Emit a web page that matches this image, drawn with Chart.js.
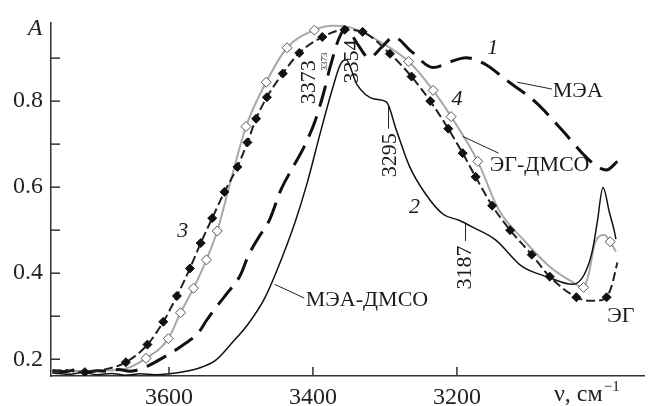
<!DOCTYPE html>
<html>
<head>
<meta charset="utf-8">
<script src="https://cdn.jsdelivr.net/npm/chart.js@4.4.1/dist/chart.umd.min.js"></script>
<style>
    html, body { margin: 0; padding: 0; background: #fff; }
    #wrap { width: 650px; height: 406px; }
</style>
</head>
<body>
<div id="wrap"><canvas id="chart"></canvas></div>
<script>
// Eixos
const xTicks = [3600, 3400, 3200];
const yTicks = [0.2, 0.3, 0.4, 0.5, 0.6, 0.7, 0.8, 0.9];
const yLabels = [0.2, 0.4, 0.6, 0.8];

// 1 - МЭА
const meaV = [3762, 3745, 3730, 3715, 3700, 3685, 3670, 3655, 3640, 3625, 3610, 3596, 3577, 3559, 3548, 3534, 3520, 3501, 3490, 3476, 3460, 3445, 3430, 3412, 3397, 3385, 3376, 3364, 3354, 3339, 3322, 3304, 3288, 3263, 3233, 3208, 3188, 3160, 3133, 3091, 3053, 3023, 3005, 2992, 2977];
const meaA = [0.174, 0.171, 0.175, 0.170, 0.173, 0.172, 0.176, 0.172, 0.177, 0.188, 0.202, 0.216, 0.237, 0.262, 0.290, 0.322, 0.352, 0.395, 0.440, 0.482, 0.525, 0.592, 0.640, 0.695, 0.754, 0.820, 0.880, 0.945, 0.970, 0.935, 0.901, 0.926, 0.949, 0.915, 0.878, 0.892, 0.901, 0.885, 0.851, 0.798, 0.731, 0.674, 0.648, 0.640, 0.660];

// 2 - МЭА-ДМСО
const meaDmsoV = [3762, 3740, 3720, 3700, 3680, 3660, 3640, 3620, 3600, 3580, 3559, 3535, 3513, 3490, 3467, 3449, 3425, 3408, 3390, 3373, 3362, 3354, 3339, 3315, 3298, 3284, 3266, 3243, 3219, 3197, 3178, 3146, 3109, 3075, 3039, 3023, 3012, 3005, 2997, 2988, 2981, 2979];
const meaDmsoA = [0.168, 0.165, 0.169, 0.164, 0.167, 0.163, 0.166, 0.164, 0.166, 0.171, 0.179, 0.198, 0.237, 0.282, 0.342, 0.411, 0.518, 0.610, 0.725, 0.828, 0.885, 0.896, 0.839, 0.805, 0.798, 0.732, 0.649, 0.583, 0.537, 0.523, 0.507, 0.477, 0.415, 0.392, 0.374, 0.397, 0.450, 0.518, 0.599, 0.541, 0.496, 0.479];

// 3 - ЭГ (linha e marcadores)
const egV = [3762, 3745, 3730, 3717, 3690, 3660, 3630, 3608, 3589, 3571, 3556, 3540, 3523, 3505, 3491, 3479, 3464, 3442, 3419, 3387, 3356, 3331, 3293, 3263, 3237, 3212, 3192, 3174, 3151, 3126, 3096, 3071, 3034, 3015, 3000, 2992, 2985, 2977];
const egA = [0.172, 0.175, 0.171, 0.170, 0.176, 0.193, 0.234, 0.287, 0.347, 0.411, 0.470, 0.528, 0.589, 0.647, 0.704, 0.759, 0.809, 0.864, 0.912, 0.949, 0.966, 0.961, 0.910, 0.857, 0.800, 0.736, 0.679, 0.624, 0.557, 0.500, 0.443, 0.392, 0.344, 0.336, 0.337, 0.344, 0.370, 0.425];
const egMarkV = [3717, 3660, 3630, 3608, 3589, 3571, 3556, 3540, 3523, 3505, 3491, 3479, 3464, 3442, 3419, 3387, 3356, 3331, 3293, 3263, 3237, 3212, 3192, 3174, 3151, 3126, 3096, 3071, 3034, 2992];
const egMarkA = [0.170, 0.193, 0.234, 0.287, 0.347, 0.411, 0.470, 0.528, 0.589, 0.647, 0.704, 0.759, 0.809, 0.864, 0.912, 0.949, 0.966, 0.961, 0.910, 0.857, 0.800, 0.736, 0.679, 0.624, 0.557, 0.500, 0.443, 0.392, 0.344, 0.344];

// 4 - ЭГ-ДМСО (linha e marcadores)
const egDmsoV = [3762, 3720, 3669, 3632, 3601, 3584, 3566, 3548, 3533, 3515, 3493, 3465, 3436, 3398, 3373, 3350, 3311, 3267, 3233, 3208, 3171, 3142, 3105, 3071, 3041, 3024, 3016, 3009, 3002, 2995, 2987, 2979];
const egDmsoA = [0.170, 0.173, 0.175, 0.202, 0.248, 0.308, 0.365, 0.431, 0.498, 0.610, 0.741, 0.844, 0.924, 0.965, 0.975, 0.972, 0.942, 0.892, 0.825, 0.764, 0.660, 0.548, 0.473, 0.415, 0.381, 0.367, 0.404, 0.466, 0.486, 0.489, 0.473, 0.450];
const egDmsoMarkV = [3632, 3601, 3584, 3566, 3548, 3533, 3493, 3465, 3436, 3398, 3267, 3233, 3208, 3171, 3024, 2987];
const egDmsoMarkA = [0.202, 0.248, 0.308, 0.365, 0.431, 0.498, 0.741, 0.844, 0.924, 0.965, 0.892, 0.825, 0.764, 0.660, 0.367, 0.473];

const serif = '"Liberation Serif", "Times New Roman", serif';

function toPoints(xs, ys) {
    return xs.map((x, i) => ({ x: x, y: ys[i] }));
}

// Textos sobre o gráfico (posições em unidades dos dados)
const notes = [
    { text: '1', v: 3150, a: 0.922, italic: true },
    { text: '4', v: 3200, a: 0.805, italic: true },
    { text: '2', v: 3259, a: 0.553, italic: true },
    { text: '3', v: 3581, a: 0.498, italic: true },
    { text: 'МЭА', v: 3032, a: 0.823 },
    { text: 'ЭГ-ДМСО', v: 3085, a: 0.651 },
    { text: 'МЭА-ДМСО', v: 3410, a: 0.337, align: 'left' },
    { text: 'ЭГ', v: 2972, a: 0.301 },
    { text: '3373', v: 3405, a: 0.844, rotate: true },
    { text: '3373', v: 3384, a: 0.892, rotate: true, size: 9 },
    { text: '3354', v: 3346, a: 0.892, rotate: true },
    { text: '3295', v: 3293, a: 0.674, rotate: true },
    { text: '3187', v: 3188, a: 0.413, rotate: true }
];

const leaders = [
    [3116, 0.844, 3068, 0.828],
    [3192, 0.718, 3142, 0.679],
    [3453, 0.374, 3412, 0.342],
    [3295, 0.793, 3295, 0.736],
    [3188, 0.514, 3188, 0.475]
];

const ticksInside = {
    id: 'ticksInside',
    afterDraw(chart) {
        const { ctx, chartArea, scales } = chart;
        ctx.save();
        ctx.strokeStyle = '#333';
        ctx.lineWidth = 1.5;
        yTicks.forEach(v => {
            const py = scales.y.getPixelForValue(v);
            ctx.beginPath();
            ctx.moveTo(chartArea.left, py);
            ctx.lineTo(chartArea.left + 9, py);
            ctx.stroke();
        });
        xTicks.forEach(v => {
            const px = scales.x.getPixelForValue(v);
            ctx.beginPath();
            ctx.moveTo(px, chartArea.bottom);
            ctx.lineTo(px, chartArea.bottom - 9);
            ctx.stroke();
        });

        // Títulos dos eixos
        ctx.fillStyle = '#222';
        ctx.font = 'italic 24px ' + serif;
        ctx.textAlign = 'center';
        ctx.textBaseline = 'alphabetic';
        ctx.fillText('A', chartArea.left - 16, chartArea.top + 13);

        ctx.font = '24px ' + serif;
        ctx.textAlign = 'left';
        const unit = 'ν, см';
        ctx.fillText(unit, 554, 401);
        const w = ctx.measureText(unit).width;
        ctx.font = '15px ' + serif;
        ctx.fillText('−1', 554 + w + 1, 391);
        ctx.restore();
    }
};

const annotations = {
    id: 'annotations',
    afterDatasetsDraw(chart) {
        const { ctx, scales } = chart;
        ctx.save();
        ctx.strokeStyle = '#222';
        ctx.lineWidth = 1;
        leaders.forEach(l => {
            ctx.beginPath();
            ctx.moveTo(scales.x.getPixelForValue(l[0]), scales.y.getPixelForValue(l[1]));
            ctx.lineTo(scales.x.getPixelForValue(l[2]), scales.y.getPixelForValue(l[3]));
            ctx.stroke();
        });

        ctx.fillStyle = '#1a1a1a';
        ctx.textBaseline = 'middle';
        notes.forEach(n => {
            const px = scales.x.getPixelForValue(n.v);
            const py = scales.y.getPixelForValue(n.a);
            const size = n.size || 22;
            ctx.font = (n.italic ? 'italic ' : '') + size + 'px ' + serif;
            ctx.textAlign = n.align || 'center';
            if (n.rotate) {
                ctx.save();
                ctx.translate(px, py);
                ctx.rotate(-Math.PI / 2);
                ctx.textAlign = 'center';
                ctx.fillText(n.text, 0, 0);
                ctx.restore();
            } else {
                ctx.fillText(n.text, px, py);
            }
        });
        ctx.restore();
    }
};

new Chart(document.getElementById('chart'), {
    type: 'scatter',
    data: {
        datasets: [
            {
                label: 'ЭГ-ДМСО маркеры',
                data: toPoints(egDmsoMarkV, egDmsoMarkA),
                showLine: false,
                pointStyle: 'rectRot',
                pointRadius: 5,
                backgroundColor: '#fff',
                borderColor: '#555',
                borderWidth: 1
            },
            {
                label: 'ЭГ маркеры',
                data: toPoints(egMarkV, egMarkA),
                showLine: false,
                pointStyle: 'rectRot',
                pointRadius: 4.5,
                backgroundColor: '#111',
                borderColor: '#111',
                borderWidth: 1
            },
            {
                label: 'ЭГ',
                data: toPoints(egV, egA),
                showLine: true,
                pointRadius: 0,
                borderColor: '#222',
                borderWidth: 2,
                borderDash: [9, 4],
                cubicInterpolationMode: 'monotone'
            },
            {
                label: 'МЭА-ДМСО',
                data: toPoints(meaDmsoV, meaDmsoA),
                showLine: true,
                pointRadius: 0,
                borderColor: '#111',
                borderWidth: 1.5,
                cubicInterpolationMode: 'monotone'
            },
            {
                label: 'МЭА',
                data: toPoints(meaV, meaA),
                showLine: true,
                pointRadius: 0,
                borderColor: '#111',
                borderWidth: 3,
                borderDash: [22, 10],
                cubicInterpolationMode: 'monotone'
            },
            {
                label: 'ЭГ-ДМСО',
                data: toPoints(egDmsoV, egDmsoA),
                showLine: true,
                pointRadius: 0,
                borderColor: '#a8a8a8',
                borderWidth: 2,
                cubicInterpolationMode: 'monotone'
            }
        ]
    },
    options: {
        responsive: true,
        maintainAspectRatio: false,
        animation: false,
        layout: { padding: { top: 17, right: 0, left: 0, bottom: 0 } },
        plugins: {
            legend: { display: false },
            tooltip: { enabled: false }
        },
        scales: {
            x: {
                type: 'linear',
                reverse: true,
                min: 2940,
                max: 3764,
                afterBuildTicks: scale => { scale.ticks = xTicks.map(v => ({ value: v })); },
                afterFit: scale => { scale.height = 30; },
                grid: { display: false, drawTicks: false },
                border: { display: true, color: '#333', width: 1.5 },
                ticks: {
                    autoSkip: false,
                    maxRotation: 0,
                    padding: 7,
                    color: '#222',
                    font: { family: serif, size: 24 },
                    callback: v => String(v)
                }
            },
            y: {
                min: 0.161,
                max: 0.983,
                afterBuildTicks: scale => { scale.ticks = yTicks.map(v => ({ value: v })); },
                afterFit: scale => { scale.width = 51; },
                grid: { display: false, drawTicks: false },
                border: { display: true, color: '#333', width: 1.5 },
                ticks: {
                    padding: 8,
                    color: '#222',
                    font: { family: serif, size: 24 },
                    callback: v => yLabels.some(l => Math.abs(l - v) < 1e-6) ? v.toFixed(1) : ''
                }
            }
        }
    },
    plugins: [ticksInside, annotations]
});
</script>
</body>
</html>
